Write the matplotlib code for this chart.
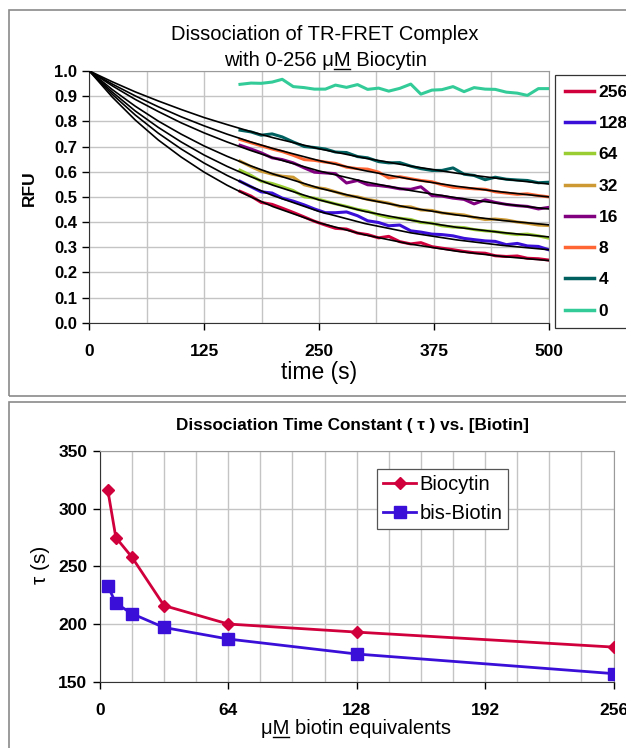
import matplotlib
matplotlib.use("Agg")
import matplotlib.pyplot as plt
from matplotlib.patches import Rectangle
from matplotlib.lines import Line2D
from matplotlib.ticker import MultipleLocator

plt.rcParams["font.family"] = ["Liberation Sans", "DejaVu Sans"]

# ---------------- top panel data ----------------
conc_labels = ["256", "128", "64", "32", "16", "8", "4", "0"]
conc_colors = ["#d0003c", "#3a10d8", "#9acd32", "#cc9933", "#800080", "#ff6633", "#006060", "#33cc99"]

time_data = [164, 176, 187, 199, 210, 222, 234, 245, 257, 268, 280, 292, 303, 315, 326,
             338, 350, 361, 373, 384, 396, 408, 419, 431, 442, 454, 466, 477, 489, 500]

rfu_256 = [0.522, 0.503, 0.478, 0.470, 0.455, 0.438, 0.420, 0.403, 0.388, 0.375, 0.372, 0.356, 0.350, 0.337, 0.343,
           0.322, 0.313, 0.318, 0.302, 0.296, 0.290, 0.283, 0.278, 0.276, 0.266, 0.263, 0.265, 0.256, 0.254, 0.249]
rfu_128 = [0.562, 0.540, 0.520, 0.515, 0.495, 0.483, 0.468, 0.452, 0.437, 0.437, 0.440, 0.425, 0.405, 0.398, 0.385,
           0.388, 0.365, 0.360, 0.352, 0.350, 0.345, 0.335, 0.330, 0.325, 0.323, 0.310, 0.315, 0.305, 0.303, 0.290]
rfu_64 = [0.606, 0.585, 0.562, 0.553, 0.540, 0.525, 0.500, 0.495, 0.483, 0.472, 0.462, 0.450, 0.443, 0.428, 0.418,
          0.415, 0.410, 0.398, 0.395, 0.385, 0.380, 0.378, 0.370, 0.365, 0.362, 0.355, 0.350, 0.352, 0.345, 0.336]
rfu_32 = [0.642, 0.620, 0.602, 0.590, 0.582, 0.578, 0.548, 0.538, 0.532, 0.520, 0.506, 0.500, 0.490, 0.482, 0.475,
          0.462, 0.460, 0.448, 0.446, 0.436, 0.432, 0.428, 0.418, 0.410, 0.412, 0.408, 0.400, 0.395, 0.388, 0.386]
rfu_16 = [0.705, 0.690, 0.675, 0.655, 0.648, 0.635, 0.615, 0.598, 0.595, 0.592, 0.555, 0.565, 0.548, 0.545, 0.540,
          0.532, 0.530, 0.540, 0.505, 0.503, 0.495, 0.490, 0.472, 0.488, 0.478, 0.470, 0.465, 0.462, 0.452, 0.458]
rfu_8 = [0.728, 0.715, 0.703, 0.690, 0.680, 0.665, 0.648, 0.645, 0.638, 0.633, 0.618, 0.612, 0.610, 0.598, 0.575,
         0.580, 0.572, 0.565, 0.560, 0.548, 0.538, 0.535, 0.532, 0.530, 0.520, 0.515, 0.510, 0.512, 0.505, 0.500]
rfu_4 = [0.765, 0.758, 0.745, 0.750, 0.738, 0.718, 0.700, 0.696, 0.690, 0.678, 0.676, 0.660, 0.655, 0.640, 0.635,
         0.636, 0.622, 0.612, 0.605, 0.605, 0.615, 0.590, 0.585, 0.568, 0.578, 0.570, 0.567, 0.565, 0.556, 0.558]
rfu_0 = [0.947, 0.952, 0.951, 0.956, 0.967, 0.938, 0.934, 0.928, 0.928, 0.944, 0.935, 0.946, 0.927, 0.932, 0.920,
         0.931, 0.948, 0.908, 0.924, 0.926, 0.938, 0.918, 0.934, 0.928, 0.927, 0.916, 0.912, 0.903, 0.930, 0.930]

# fitted curves (black)
time_fit = [0, 25, 50, 75, 100, 125, 150, 175, 200, 250, 300, 350, 400, 450, 500]
fit_256 = [1.000, 0.896, 0.805, 0.726, 0.658, 0.598, 0.546, 0.501, 0.461, 0.397, 0.349, 0.312, 0.284, 0.263, 0.247]
fit_128 = [1.000, 0.907, 0.825, 0.753, 0.690, 0.634, 0.585, 0.542, 0.505, 0.442, 0.394, 0.357, 0.329, 0.307, 0.290]
fit_64 = [1.000, 0.916, 0.841, 0.776, 0.718, 0.666, 0.621, 0.581, 0.546, 0.488, 0.442, 0.407, 0.379, 0.358, 0.341]
fit_32 = [1.000, 0.926, 0.860, 0.801, 0.749, 0.702, 0.661, 0.624, 0.591, 0.535, 0.491, 0.456, 0.428, 0.406, 0.389]
fit_16 = [1.000, 0.941, 0.887, 0.839, 0.794, 0.754, 0.718, 0.685, 0.655, 0.603, 0.560, 0.525, 0.496, 0.472, 0.452]
fit_8 = [1.000, 0.948, 0.901, 0.858, 0.818, 0.782, 0.749, 0.719, 0.692, 0.644, 0.604, 0.570, 0.542, 0.519, 0.500]
fit_4 = [1.000, 0.957, 0.917, 0.881, 0.847, 0.815, 0.787, 0.760, 0.735, 0.691, 0.654, 0.622, 0.594, 0.571, 0.551]

# ---------------- bottom panel data ----------------
biotin_uM = [4, 8, 16, 32, 64, 128, 256]
tau_biocytin = [316, 275, 258, 216, 200, 193, 180]
tau_bisbiotin = [233, 218, 209, 197, 187, 174, 157]

W, H = 626, 748
fig = plt.figure(figsize=(W / 100, H / 100), dpi=100)


def fx(px):
    return px / W


def fy(py):
    return 1 - py / H


def underlined_text(x_px, base_px, before, ul, after, **kw):
    # centred text with one underlined piece (the "M" of uM)
    full = before + ul + after
    t = fig.text(fx(x_px), fy(base_px), full, ha="center", va="baseline", **kw)
    r = fig.canvas.get_renderer()
    prop = t.get_fontproperties()
    w_full = r.get_text_width_height_descent(full, prop, ismath=False)[0]
    w_b = r.get_text_width_height_descent(before, prop, ismath=False)[0]
    w_bu = r.get_text_width_height_descent(before + ul, prop, ismath=False)[0]
    left = x_px - w_full / 2
    fig.add_artist(Line2D([fx(left + w_b + 0.5), fx(left + w_bu - 0.5)], [fy(base_px + 2.5)] * 2,
                          transform=fig.transFigure, color="black", lw=1.0))
    return t


# outer frames of the two charts
fig.add_artist(Rectangle((fx(9), fy(396)), fx(640), fy(10) - fy(396), transform=fig.transFigure,
                         fill=False, ec="#8a8a8a", lw=1.2, clip_on=False))
fig.add_artist(Rectangle((fx(9), fy(760)), fx(640), fy(402) - fy(760), transform=fig.transFigure,
                         fill=False, ec="#8a8a8a", lw=1.2, clip_on=False))

GRID = "#c4c4c4"

# ======================= top chart =======================
ax1 = fig.add_axes([fx(89.4), fy(322.7), fx(548.5 - 89.4), fy(71) - fy(322.7)])
data_series = [rfu_256, rfu_128, rfu_64, rfu_32, rfu_16, rfu_8, rfu_4, rfu_0]
for vals, lab, col in zip(data_series, conc_labels, conc_colors):
    ax1.plot(time_data, vals, color=col, lw=2.2, label=lab, zorder=3, solid_joinstyle="round")
for fit in [fit_256, fit_128, fit_64, fit_32, fit_16, fit_8, fit_4]:
    ax1.plot(time_fit, fit, color="black", lw=1.2, zorder=4, label="_nolegend_")

ax1.set_xlim(0, 500)
ax1.set_ylim(0, 1.0)
ax1.xaxis.set_major_locator(MultipleLocator(125))
ax1.xaxis.set_minor_locator(MultipleLocator(62.5))
ax1.yaxis.set_major_locator(MultipleLocator(0.1))
ax1.yaxis.set_major_formatter(plt.FormatStrFormatter("%.1f"))
ax1.grid(True, which="both", color=GRID, lw=1.0)
ax1.set_axisbelow(True)
ax1.tick_params(axis="x", which="major", length=5, width=1, pad=10, labelsize=12.5)
ax1.tick_params(axis="x", which="minor", length=0)
ax1.tick_params(axis="y", length=5, width=1, pad=4, labelsize=12)
for lbl in ax1.get_xticklabels() + ax1.get_yticklabels():
    lbl.set_fontweight("bold")
for s in ["top", "right"]:
    ax1.spines[s].set_color("#9a9a9a")
for s in ["left", "bottom"]:
    ax1.spines[s].set_color("#333333")

fig.text(fx(325), fy(40.5), "Dissociation of TR-FRET Complex", ha="center", va="baseline", fontsize=14.5)
underlined_text(325, 66.5, "with 0-256 \u03bc", "M", " Biocytin", fontsize=14.5)
fig.text(fx(319), fy(372), "time (s)", ha="center", va="center", fontsize=16.5)
fig.text(fx(29), fy(188), "RFU", ha="center", va="center", rotation=90, fontsize=12.5, fontweight="bold")

leg1 = ax1.legend(loc="upper left", bbox_to_anchor=(fx(555), fy(75)), bbox_transform=fig.transFigure,
                  frameon=True, fancybox=False, edgecolor="#333333", framealpha=1,
                  prop={"weight": "bold", "size": 12.5}, handlelength=1.7, handletextpad=0.25,
                  labelspacing=0.93, borderpad=0.55, borderaxespad=0)
leg1.get_frame().set_linewidth(0.9)
for h in leg1.get_lines():
    h.set_linewidth(2.5)

# ======================= bottom chart =======================
ax2 = fig.add_axes([fx(99.8), fy(681.7), fx(613.6 - 99.8), fy(451) - fy(681.7)])
ax2.plot(biotin_uM, tau_biocytin, color="#d0003c", lw=2.0, marker="D", ms=6.5, label="Biocytin", zorder=3)
ax2.plot(biotin_uM, tau_bisbiotin, color="#3a10d8", lw=2.0, marker="s", ms=8, label="bis-Biotin", zorder=3)
ax2.set_xlim(0, 256)
ax2.set_ylim(150, 350)
ax2.xaxis.set_major_locator(MultipleLocator(64))
ax2.xaxis.set_minor_locator(MultipleLocator(16))
ax2.yaxis.set_major_locator(MultipleLocator(50))
ax2.grid(True, which="both", color=GRID, lw=1.0)
ax2.set_axisbelow(True)
ax2.tick_params(axis="x", which="major", length=5, width=1, pad=10, labelsize=12.5)
ax2.tick_params(axis="x", which="minor", length=0)
ax2.tick_params(axis="y", length=5, width=1, pad=4, labelsize=12.5)
for lbl in ax2.get_xticklabels() + ax2.get_yticklabels():
    lbl.set_fontweight("bold")
for s in ["top", "right"]:
    ax2.spines[s].set_color("#9a9a9a")
for s in ["left", "bottom"]:
    ax2.spines[s].set_color("#333333")

fig.text(fx(352), fy(425), "Dissociation Time Constant ( \u03c4 ) vs. [Biotin]", ha="center", va="center",
         fontsize=12.3, fontweight="bold")
fig.text(fx(40), fy(565), "\u03c4 (s)", ha="center", va="center", rotation=90, fontsize=15)
underlined_text(356, 734, "\u03bc", "M", " biotin equivalents", fontsize=14.5)

leg2 = ax2.legend(loc="upper left", bbox_to_anchor=(fx(377), fy(469)), bbox_transform=fig.transFigure,
                  frameon=True, fancybox=False, edgecolor="#555555", framealpha=1,
                  prop={"size": 14.5}, handlelength=1.65, handletextpad=0.15,
                  labelspacing=0.5, borderpad=0.3, borderaxespad=0)
leg2.get_frame().set_linewidth(0.9)

fig.savefig("out.png", dpi=100)
